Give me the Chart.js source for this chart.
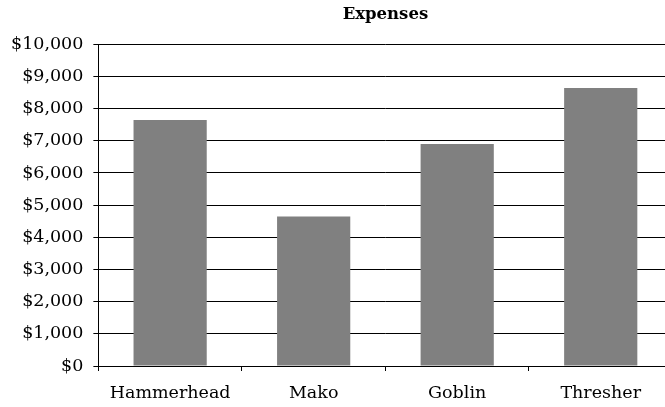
<!DOCTYPE html>
<html>
<head>
<meta charset="utf-8">
<script src="https://cdn.jsdelivr.net/npm/chart.js@4"></script>
<style>
  html, body { margin: 0; padding: 0; background: #fff; overflow: hidden; }
  /* lienzo mas ancho/alto que la ventana: el grafico original sale recortado a la derecha */
  #caja { position: relative; width: 770px; height: 415px; }
</style>
</head>
<body>
<div id="caja"><canvas id="grafico"></canvas></div>
<script>
// datos
const categorias = ['Hammerhead', 'Mako', 'Goblin', 'Thresher'];
const gastos = [7650, 4650, 6900, 8640];
const titulo = 'Expenses';

const fuente = "'DejaVu Serif', serif";

new Chart(document.getElementById('grafico'), {
    type: 'bar',
    data: {
        labels: categorias,
        datasets: [{
            label: titulo,
            data: gastos,
            backgroundColor: '#808080',
            borderWidth: 0,
            inflateAmount: 0,
            barPercentage: 0.51,
            categoryPercentage: 1
        }]
    },
    options: {
        responsive: true,
        maintainAspectRatio: false,
        animation: false,
        layout: { padding: { left: 1, right: 97.5, top: 0, bottom: 0 } },
        plugins: {
            legend: { display: false },
            tooltip: { enabled: false },
            title: {
                display: true,
                fullSize: false, // centrado sobre el area del grafico
                text: titulo,
                color: '#000',
                font: { family: fuente, size: 16.5, weight: 'bold' },
                padding: { top: 5, bottom: 19.5 }
            }
        },
        scales: {
            x: {
                grid: { display: true, drawOnChartArea: false, drawTicks: true, tickLength: 5, color: '#000', offset: true },
                border: { color: '#000', width: 1 },
                ticks: { color: '#000', font: { family: fuente, size: 17.5 }, padding: 11.5, maxRotation: 0 }
            },
            y: {
                min: 0,
                max: 10000,
                grid: { color: '#000', lineWidth: 1, tickLength: 5 },
                border: { color: '#000', width: 1 },
                ticks: {
                    stepSize: 1000,
                    color: '#000',
                    padding: 10,
                    font: { family: fuente, size: 17.5 },
                    callback: v => '$' + v.toLocaleString('en-US')
                }
            }
        }
    }
});
</script>
</body>
</html>
